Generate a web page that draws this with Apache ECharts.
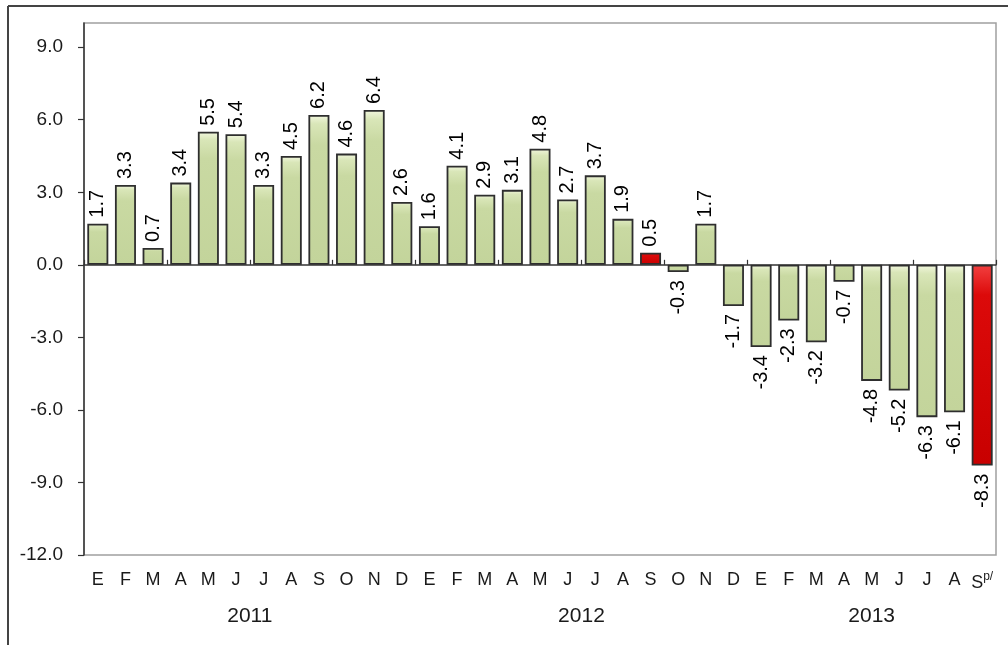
<!DOCTYPE html>
<html>
<head>
<meta charset="utf-8">
<script src="https://cdn.jsdelivr.net/npm/echarts@6/dist/echarts.min.js"></script>
<style>html,body{margin:0;padding:0;background:#fff;}#c{width:1008px;height:645px;}</style>
</head>
<body>
<div id="c"></div>
<script>
const years = ['2011', '2012', '2013'];
const monthsPerYear = [
  ['E','F','M','A','M','J','J','A','S','O','N','D'],
  ['E','F','M','A','M','J','J','A','S','O','N','D'],
  ['E','F','M','A','M','J','J','A','S']
];
const values2011 = [1.7, 3.3, 0.7, 3.4, 5.5, 5.4, 3.3, 4.5, 6.2, 4.6, 6.4, 2.6];
const values2012 = [1.6, 4.1, 2.9, 3.1, 4.8, 2.7, 3.7, 1.9, 0.5, -0.3, 1.7, -1.7];
const values2013 = [-3.4, -2.3, -3.2, -0.7, -4.8, -5.2, -6.3, -6.1, -8.3];
const highlighted = ['2012-S', '2013-S'];
const preliminary = '2013-S';
const yTicks = [-12, -9, -6, -3, 0, 3, 6, 9];

const FONT = 'Liberation Sans, Arial, sans-serif';
const categories = [];
const monthLabel = [];
years.forEach((y, yi) => monthsPerYear[yi].forEach(m => { categories.push(y + '-' + m + '-' + categories.length); monthLabel.push(m); }));
const allValues = values2011.concat(values2012, values2013);
const keyOf = i => categories[i].split('-').slice(0, 2).join('-');

const yearCenters = [];
let acc = 0;
monthsPerYear.forEach(ms => { yearCenters.push(acc + ms.length / 2); acc += ms.length; });

const green = new echarts.graphic.LinearGradient(0, 0, 0, 1, [
  {offset: 0, color: '#f2f7df'}, {offset: 0.06, color: '#d9e6b8'}, {offset: 0.2, color: '#c9d9a2'}, {offset: 1, color: '#c3d49b'}
]);
const red = new echarts.graphic.LinearGradient(0, 0, 0, 1, [
  {offset: 0, color: '#f24040'}, {offset: 0.15, color: '#dc0a0a'}, {offset: 1, color: '#c80000'}
]);

const data = allValues.map((v, i) => ({
  value: v,
  itemStyle: { color: highlighted.includes(keyOf(i)) ? red : green },
  label: v >= 0
    ? { position: 'top', align: 'left', distance: 6 }
    : { position: 'bottom', align: 'right', distance: 8 }
}));

const chart = echarts.init(document.getElementById('c'));
chart.setOption({
  animation: false,
  grid: { left: 84, right: 12, top: 23, bottom: 90, show: true, borderColor: '#a0a0a0', borderWidth: 1.5, backgroundColor: 'transparent' },
  xAxis: [
    {
      type: 'category', data: categories, position: 'bottom',
      axisLine: { onZero: true, lineStyle: { color: '#333', width: 1.5 } },
      axisTick: { show: true, inside: true, length: 5, lineStyle: { color: '#333', width: 1.2 } },
      axisLabel: { show: false }, splitLine: { show: false }
    },
    {
      type: 'category', data: categories, position: 'bottom',
      axisLine: { show: false, onZero: false }, axisTick: { show: false },
      axisLabel: {
        show: true, interval: 0, margin: 16, fontSize: 18, color: '#1a1a1a', fontFamily: FONT,
        formatter: (v, i) => categories[i].startsWith(preliminary + '-') ? monthLabel[i] + '{sup|p/}' : monthLabel[i],
        rich: { sup: { fontSize: 12, verticalAlign: 'top', padding: [0, 0, 13, 0], color: '#1a1a1a', fontFamily: FONT } }
      }
    },
    {
      type: 'value', min: 0, max: acc, position: 'bottom',
      axisLine: { show: false, onZero: false }, axisTick: { show: false }, splitLine: { show: false },
      axisLabel: {
        show: true, customValues: yearCenters, margin: 51, fontSize: 21, color: '#1a1a1a', fontFamily: FONT,
        formatter: v => years[yearCenters.findIndex(c => Math.abs(c - v) < 1e-6)] || ''
      }
    }
  ],
  yAxis: {
    type: 'value', min: -12, max: 10,
    axisLine: { show: true, lineStyle: { color: '#333', width: 1.5 } },
    axisTick: { show: true, length: 6, customValues: yTicks, lineStyle: { color: '#333', width: 1.2 } },
    axisLabel: { customValues: yTicks, formatter: v => v.toFixed(1), fontSize: 19, color: '#1a1a1a', margin: 21, fontFamily: FONT },
    splitLine: { show: false }
  },
  series: [{
    type: 'bar', xAxisIndex: 0, data: data, barWidth: '76%',
    itemStyle: { borderColor: '#2e2e2e', borderWidth: 1.8 },
    label: {
      show: true, rotate: 90, verticalAlign: 'middle', fontSize: 20, color: '#000',
      fontFamily: FONT,
      formatter: p => p.value.toFixed(1)
    }
  }],
  graphic: [
    { type: 'line', shape: { x1: 8, y1: 6, x2: 1008, y2: 6 }, style: { stroke: '#444', lineWidth: 2 } },
    { type: 'line', shape: { x1: 8, y1: 6, x2: 8, y2: 645 }, style: { stroke: '#444', lineWidth: 2 } }
  ]
});
</script>
</body>
</html>
